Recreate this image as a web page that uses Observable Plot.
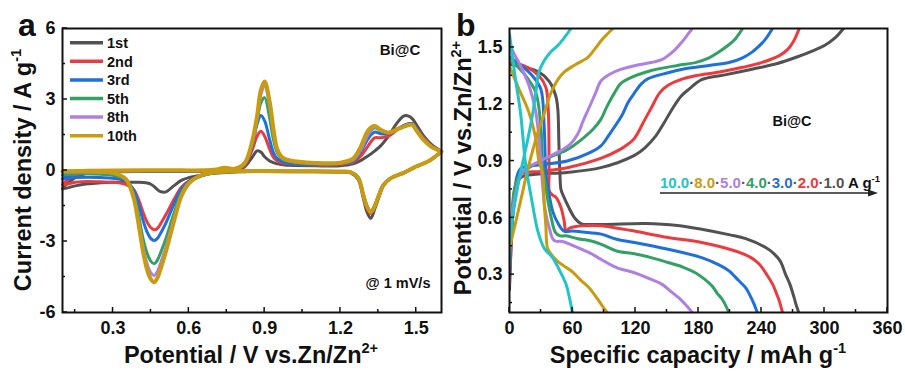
<!DOCTYPE html>
<html><head><meta charset="utf-8">
<script src="https://cdn.jsdelivr.net/npm/d3@7"></script>
<script src="https://cdn.jsdelivr.net/npm/@observablehq/plot@0.6"></script>
<style>
body{margin:0;background:#fff;}
#wrap{position:relative;width:905px;height:371px;overflow:hidden;background:#fff;}
#pa{position:absolute;left:0;top:0;}
#pb{position:absolute;left:450px;top:0;}
</style></head>
<body><div id="wrap"><div id="pa"></div><div id="pb"></div></div>
<script>
// ---------------- Panel a: CV data ----------------
const cycles = ["1st", "2nd", "3rd", "5th", "8th", "10th"];
const cycleColors = ["#525252", "#ec3a3f", "#1f6fdc", "#33a064", "#b07fe4", "#c99b10"];
const cathodicV = [1.6, 1.55, 1.5, 1.45, 1.4, 1.37, 1.35, 1.335, 1.32, 1.305, 1.29, 1.27, 1.24, 1.2, 1.0, 0.8,
  0.7, 0.65, 0.6, 0.57, 0.54, 0.51, 0.49, 0.475, 0.463, 0.45, 0.435, 0.42, 0.4, 0.38, 0.35, 0.3, 0.25, 0.2, 0.15, 0.1];
const anodicV = [0.1, 0.15, 0.2, 0.3, 0.5, 0.7, 0.74, 0.78, 0.82, 0.85, 0.87, 0.885, 0.9, 0.92, 0.935, 0.95, 0.97, 1.0,
  1.1, 1.2, 1.25, 1.28, 1.31, 1.335, 1.36, 1.39, 1.42, 1.45, 1.47, 1.485, 1.5, 1.53, 1.56, 1.6];
const cath1st  = [0.8, 0.4, 0.17, -0.1, -0.32, -0.65, -1.2, -1.65, -2.02, -1.75, -1.15, -0.38, -0.1, -0.06, -0.05, -0.05,
  -0.12, -0.2, -0.3, -0.42, -0.65, -0.9, -0.9, -0.8, -0.68, -0.58, -0.53, -0.51, -0.5, -0.5, -0.5, -0.5, -0.52, -0.56, -0.65, -0.77];
const cath2nd  = [0.8, 0.4, 0.17, -0.1, -0.32, -0.62, -1.12, -1.55, -1.82, -1.58, -1.05, -0.32, -0.08, -0.05, -0.04, -0.04,
  -0.1, -0.22, -0.45, -0.72, -1.25, -1.85, -2.22, -2.45, -2.5, -2.42, -2.18, -1.8, -1.2, -0.78, -0.58, -0.5, -0.48, -0.46, -0.5, -0.6];
const cath3rd  = [0.8, 0.4, 0.17, -0.1, -0.32, -0.6, -1.08, -1.5, -1.75, -1.52, -1.0, -0.3, -0.07, -0.04, -0.03, -0.03,
  -0.1, -0.22, -0.47, -0.8, -1.45, -2.2, -2.62, -2.88, -2.96, -2.88, -2.6, -2.15, -1.4, -0.8, -0.45, -0.33, -0.3, -0.28, -0.3, -0.35];
const cath5th  = [0.8, 0.4, 0.17, -0.1, -0.32, -0.6, -1.08, -1.5, -1.72, -1.5, -1.0, -0.3, -0.07, -0.04, -0.03, -0.03,
  -0.09, -0.2, -0.5, -0.95, -1.85, -2.85, -3.43, -3.8, -3.94, -3.84, -3.5, -2.93, -1.85, -0.95, -0.38, -0.2, -0.16, -0.14, -0.15, -0.18];
const cath8th  = [0.8, 0.4, 0.17, -0.1, -0.32, -0.6, -1.1, -1.5, -1.74, -1.5, -1.0, -0.3, -0.07, -0.04, -0.03, -0.03,
  -0.08, -0.2, -0.53, -1.05, -2.07, -3.2, -3.86, -4.28, -4.44, -4.33, -3.95, -3.3, -2.07, -1.05, -0.35, -0.12, -0.08, -0.06, -0.06, -0.07];
const cath10th = [0.8, 0.4, 0.17, -0.1, -0.32, -0.62, -1.12, -1.52, -1.76, -1.52, -1.0, -0.3, -0.07, -0.04, -0.03, -0.03,
  -0.08, -0.2, -0.55, -1.1, -2.2, -3.4, -4.1, -4.55, -4.72, -4.6, -4.2, -3.5, -2.2, -1.1, -0.35, -0.1, -0.05, -0.03, -0.03, -0.04];
const anod1st  = [-0.77, -0.3, -0.12, -0.05, -0.04, -0.04, -0.03, 0.0, 0.15, 0.55, 0.83, 0.78, 0.58, 0.4, 0.33, 0.28, 0.25, 0.22,
  0.2, 0.2, 0.28, 0.42, 0.62, 0.82, 1.05, 1.45, 1.95, 2.3, 2.3, 2.18, 1.95, 1.45, 1.1, 0.8];
const anod2nd  = [-0.6, -0.2, -0.08, -0.04, -0.03, -0.02, 0.0, 0.03, 0.2, 0.85, 1.45, 1.66, 1.45, 0.9, 0.55, 0.4, 0.32, 0.28,
  0.22, 0.25, 0.35, 0.6, 1.05, 1.38, 1.38, 1.45, 1.68, 1.9, 1.98, 1.98, 1.8, 1.38, 1.05, 0.8];
const anod3rd  = [-0.35, -0.12, -0.06, -0.03, -0.02, -0.01, 0.03, 0.04, 0.25, 1.0, 1.95, 2.32, 2.1, 1.3, 0.75, 0.5, 0.38, 0.3,
  0.25, 0.28, 0.4, 0.78, 1.35, 1.62, 1.55, 1.55, 1.72, 1.9, 1.97, 1.97, 1.78, 1.33, 1.02, 0.8];
const anod5th  = [-0.18, -0.08, -0.04, -0.02, -0.01, 0.0, 0.06, 0.05, 0.28, 1.1, 2.1, 2.85, 3.08, 2.2, 1.3, 0.75, 0.48, 0.38,
  0.28, 0.3, 0.43, 0.85, 1.5, 1.8, 1.68, 1.6, 1.72, 1.86, 1.93, 1.94, 1.74, 1.3, 1.0, 0.8];
const anod8th  = [-0.07, -0.04, -0.02, -0.01, 0.0, 0.02, 0.1, 0.06, 0.3, 1.15, 2.2, 3.2, 3.59, 2.7, 1.6, 0.85, 0.52, 0.4,
  0.3, 0.32, 0.45, 0.88, 1.53, 1.85, 1.7, 1.6, 1.72, 1.85, 1.92, 1.93, 1.72, 1.29, 1.0, 0.8];
const anod10th = [-0.04, -0.02, -0.01, 0.0, 0.01, 0.03, 0.12, 0.07, 0.3, 1.2, 2.3, 3.4, 3.76, 2.9, 1.75, 0.9, 0.55, 0.42,
  0.32, 0.33, 0.5, 1.0, 1.7, 1.88, 1.72, 1.6, 1.72, 1.85, 1.92, 1.93, 1.7, 1.28, 1.0, 0.8];
const cathodic = [cath1st, cath2nd, cath3rd, cath5th, cath8th, cath10th];
const anodic = [anod1st, anod2nd, anod3rd, anod5th, anod8th, anod10th];
const xTicksA = [0.3, 0.6, 0.9, 1.2, 1.5];
const xMinorA = [0.15, 0.45, 0.75, 1.05, 1.35];
const yTicksA = [-6, -3, 0, 3, 6];
const yMinorA = [-4.5, -1.5, 1.5, 4.5];

// ---------------- Panel b: GCD data (capacity mAh/g, potential V) ----------------
const rates = ["1.0", "2.0", "3.0", "4.0", "5.0", "8.0", "10.0"];
const rateColors = ["#525252", "#ec3a3f", "#1f6fdc", "#33a064", "#b07fe4", "#c99b10", "#22c4c8"];
const dis1_0 = [[0,1.41],[15,1.395],[28,1.37],[38,1.32],[44,1.245],[46,1.175],[47,1.0],[48,0.84],[49,0.75],[51,0.72],[56,0.66],[62,0.6],[68,0.57],[87,0.565],[129,0.57],[160,0.56],[183,0.54],[210,0.51],[225,0.49],[244,0.443],[252,0.41],[258,0.37],[263,0.3],[267,0.25],[271,0.18],[273,0.14],[275.5,0.1]];
const chg1_0 = [[0,0.22],[2,0.5],[5,0.72],[10,0.81],[25,0.83],[55,0.84],[87,0.865],[119,0.93],[129,0.97],[139,1.03],[147,1.1],[155,1.175],[163,1.24],[171,1.28],[183,1.33],[205,1.355],[231,1.385],[255,1.415],[273,1.448],[290,1.485],[300,1.51],[310,1.55],[318,1.6]];
const dis2_0 = [[0,1.42],[15,1.4],[28,1.35],[34.6,1.29],[37,1.16],[37.7,0.84],[38,0.74],[41,0.72],[44,0.71],[49,0.655],[52,0.584],[53.8,0.53],[57,0.545],[62,0.553],[70,0.558],[87,0.558],[103,0.545],[119,0.53],[151,0.496],[183,0.47],[215,0.425],[230,0.39],[238,0.355],[245,0.3],[250.5,0.25],[255,0.19],[257,0.16],[260,0.1]];
const chg2_0 = [[0,0.25],[2,0.5],[5,0.72],[10.6,0.83],[30,0.845],[55,0.865],[87.4,0.915],[105,0.96],[113,0.99],[119,1.02],[129,1.12],[135,1.18],[143,1.26],[151,1.3],[163,1.33],[177,1.35],[200,1.37],[222,1.395],[240,1.42],[257,1.457],[265,1.49],[270,1.527],[276,1.6]];
const dis3_0 = [[0,1.45],[10,1.41],[21.8,1.35],[29.8,1.28],[33,1.087],[34.6,0.84],[36,0.78],[37.7,0.725],[41,0.637],[45.8,0.575],[52,0.53],[60,0.53],[70,0.525],[87.4,0.514],[102,0.487],[119,0.47],[151,0.434],[183,0.39],[200,0.35],[209,0.32],[218,0.27],[225,0.23],[230,0.18],[233,0.143],[236,0.1]];
const chg3_0 = [[0,0.29],[2,0.55],[5,0.75],[10.6,0.86],[30,0.88],[55,0.9],[75,0.94],[87,0.98],[95,1.04],[107,1.14],[113,1.21],[119,1.26],[126,1.31],[132,1.335],[150,1.365],[167,1.387],[190,1.405],[209,1.42],[222,1.445],[231,1.475],[240,1.52],[244,1.545],[250.5,1.6]];
const dis4_0 = [[0,1.45],[6,1.41],[15.4,1.35],[25,1.263],[29.8,1.087],[32,0.84],[33.5,0.8],[34.6,0.76],[39,0.62],[44,0.52],[48,0.505],[53.8,0.505],[65,0.49],[76,0.48],[87.4,0.46],[102,0.425],[119,0.41],[135,0.39],[151,0.364],[165,0.34],[177,0.31],[186,0.275],[193,0.24],[198,0.2],[202.6,0.17],[209,0.1]];
const chg4_0 = [[0,0.35],[2,0.58],[5,0.76],[10.6,0.83],[30,0.9],[55,0.96],[70,1.02],[80,1.07],[87,1.12],[93,1.19],[100,1.26],[106,1.31],[113,1.334],[135,1.378],[160,1.405],[177,1.42],[190,1.445],[199,1.475],[208,1.51],[215,1.545],[222,1.6]];
const dis5_0 = [[0,1.53],[4,1.47],[9,1.42],[18.5,1.3],[25,1.16],[29.8,0.91],[31.4,0.78],[34,0.64],[37.7,0.55],[42.5,0.48],[50.6,0.475],[60,0.455],[76,0.416],[87.4,0.38],[102,0.337],[119,0.31],[135,0.275],[145,0.25],[154,0.21],[161,0.178],[168,0.14],[174,0.1]];
const chg5_0 = [[0,0.42],[2,0.6],[5.8,0.725],[9,0.8],[15,0.86],[23.3,0.884],[36,0.92],[49,0.955],[58,0.99],[65,1.043],[70,1.11],[76,1.184],[82,1.26],[87.4,1.325],[96,1.36],[106.5,1.385],[120,1.405],[135,1.42],[145,1.435],[151,1.457],[158,1.49],[164,1.527],[170,1.57],[174,1.6]];
const dis8_0 = [[0,1.4],[9,1.28],[18.5,1.157],[25,1.02],[28,0.9],[31.4,0.84],[33,0.68],[34.6,0.56],[36.2,0.44],[40,0.405],[45.8,0.37],[52,0.345],[60,0.315],[68,0.27],[76,0.23],[84,0.17],[89,0.13],[93,0.1]];
const chg8_0 = [[0,0.44],[2.6,0.5],[10.6,0.69],[18,0.87],[26.6,1.043],[33,1.15],[39,1.254],[46,1.33],[52,1.37],[63,1.41],[74.6,1.448],[81,1.49],[87.4,1.537],[93,1.57],[98.6,1.6]];
const dis10_0 = [[0,1.57],[5,1.36],[10.6,1.15],[15.4,0.88],[21,0.7],[27,0.53],[33,0.44],[41,0.39],[47,0.33],[53.8,0.25],[57,0.18],[60,0.1]];
const chg10_0 = [[0,0.47],[4,0.64],[9,0.8],[13.7,0.92],[18,1.03],[21.8,1.14],[25,1.26],[28,1.37],[33,1.43],[39,1.475],[46,1.51],[52,1.55],[58.6,1.6]];
const discharge = [dis1_0, dis2_0, dis3_0, dis4_0, dis5_0, dis8_0, dis10_0];
const charge = [chg1_0, chg2_0, chg3_0, chg4_0, chg5_0, chg8_0, chg10_0];
const xTicksB = [0, 60, 120, 180, 240, 300, 360];
const xMinorB = [30, 90, 150, 210, 270, 330];
const yTicksB = [0.3, 0.6, 0.9, 1.2, 1.5];
const yMinorB = [0.15, 0.45, 0.75, 1.05, 1.35];

// ---------------- helpers ----------------
const FONT = '"Liberation Sans", Arial, Helvetica, sans-serif';
const INK = "#111";
function addText(svg, o) {
  const t = d3.select(svg).append("text")
    .attr("font-family", FONT).attr("font-size", o.size).attr("font-weight", o.weight || "bold")
    .attr("fill", o.fill || INK).attr("text-anchor", o.anchor || "start")
    .attr("transform", `translate(${o.x},${o.y})` + (o.rotate ? ` rotate(${o.rotate})` : ""));
  t.append("tspan").text(o.text);
  if (o.sup) t.append("tspan").attr("font-size", o.size * 0.62).attr("dy", -o.size * 0.42).text(o.sup);
  return t;
}
function labelAxes(xT, yT, fmtX, fmtY) {
  return [
    Plot.axisX({ticks: xT, tickSize: 0, tickPadding: 9, tickFormat: fmtX, label: null}),
    Plot.axisY({ticks: yT, tickSize: 0, tickPadding: 7, tickFormat: fmtY, label: null})
  ];
}
// inward ticks drawn through the plot's own scales
function inwardTicks(svg, xT, xM, yT, yM, m) {
  const sx = svg.scale("x"), sy = svg.scale("y");
  const g = d3.select(svg).append("g").attr("stroke", INK).attr("stroke-width", 1.5);
  const yb = m.height - m.bottom, xl = m.left;
  [[xT, 5], [xM, 3]].forEach(([arr, len]) => arr.forEach(v => {
    const x = sx.apply(v);
    g.append("line").attr("x1", x).attr("x2", x).attr("y1", yb).attr("y2", yb - len);
  }));
  [[yT, 5], [yM, 3]].forEach(([arr, len]) => arr.forEach(v => {
    const y = sy.apply(v);
    g.append("line").attr("x1", xl).attr("x2", xl + len).attr("y1", y).attr("y2", y);
  }));
}
const plotStyle = {fontFamily: FONT, fontSize: "18px", fontWeight: "bold", color: INK, background: "transparent", overflow: "visible"};

// ---------------- Panel a ----------------
const cvMarks = cycles.map((c, k) => {
  const pts = cathodicV.map((v, j) => ({v, i: cathodic[k][j]}))
    .concat(anodicV.slice(1).map((v, j) => ({v, i: anodic[k][j + 1]})));
  return Plot.line(pts, {x: "v", y: "i", stroke: cycleColors[k], strokeWidth: k === 5 ? 4 : 3, curve: "catmull-rom"});
});
const mA = {width: 450, height: 371, left: 62, right: 9, top: 28, bottom: 59};
const svgA = Plot.plot({
  width: mA.width, height: mA.height, marginLeft: mA.left, marginRight: mA.right, marginTop: mA.top, marginBottom: mA.bottom,
  style: plotStyle,
  x: {domain: [0.1, 1.6]},
  y: {domain: [-6, 6]},
  marks: [
    ...cvMarks,
    ...labelAxes(xTicksA, yTicksA, d3.format(".1f"), d => String(d)),
    Plot.frame({stroke: INK, strokeWidth: 2})
  ]
});
document.getElementById("pa").appendChild(svgA);
inwardTicks(svgA, xTicksA, xMinorA, yTicksA, yMinorA, mA);
addText(svgA, {x: 18, y: 36, text: "a", size: 32});
addText(svgA, {x: 251, y: 363, text: "Potential / V vs.Zn/Zn", sup: "2+", size: 23.5, anchor: "middle"});
addText(svgA, {x: 31, y: 170, text: "Current density / A g", sup: "-1", size: 23.5, anchor: "middle", rotate: -90});
addText(svgA, {x: 400, y: 55, text: "Bi@C", size: 15, anchor: "middle"});
addText(svgA, {x: 398, y: 288, text: "@ 1 mV/s", size: 14.5, anchor: "middle"});
cycles.forEach((c, k) => {
  const y = 42.7 + 18.6 * k;
  d3.select(svgA).append("line").attr("x1", 70).attr("x2", 103).attr("y1", y).attr("y2", y)
    .attr("stroke", cycleColors[k]).attr("stroke-width", 3.5);
  addText(svgA, {x: 107, y: y + 5.2, text: c, size: 14.5});
});

// ---------------- Panel b ----------------
const gcdMarks = [];
rates.forEach((r, k) => {
  [discharge[k], charge[k]].forEach(arr => {
    gcdMarks.push(Plot.line(arr, {x: d => d[0], y: d => d[1], stroke: rateColors[k], strokeWidth: 3, curve: "catmull-rom"}));
  });
});
const mB = {width: 455, height: 371, left: 59, right: 18, top: 28, bottom: 59};
const svgB = Plot.plot({
  width: mB.width, height: mB.height, marginLeft: mB.left, marginRight: mB.right, marginTop: mB.top, marginBottom: mB.bottom,
  style: plotStyle,
  x: {domain: [0, 360]},
  y: {domain: [0.1, 1.6]},
  clip: true,
  marks: [
    ...gcdMarks,
    ...labelAxes(xTicksB, yTicksB, d => String(d), d3.format(".1f")),
    Plot.frame({stroke: INK, strokeWidth: 2})
  ]
});
document.getElementById("pb").appendChild(svgB);
inwardTicks(svgB, xTicksB, xMinorB, yTicksB, yMinorB, mB);
addText(svgB, {x: 6, y: 36, text: "b", size: 32});
addText(svgB, {x: 248, y: 363, text: "Specific capacity / mAh g", sup: "-1", size: 23.5, anchor: "middle"});
addText(svgB, {x: 21, y: 168, text: "Potential / V vs.Zn/Zn", sup: "2+", size: 23.5, anchor: "middle", rotate: -90});
addText(svgB, {x: 342, y: 126, text: "Bi@C", size: 14.5, anchor: "middle"});
// rate annotation
const ann = d3.select(svgB).append("text").attr("font-family", FONT).attr("font-size", 15).attr("font-weight", "bold")
  .attr("text-anchor", "start").attr("x", 210).attr("y", 188);
rates.slice().reverse().forEach((r, j) => {
  const k = rates.length - 1 - j;
  if (j > 0) ann.append("tspan").attr("fill", "#555").text("·");
  ann.append("tspan").attr("fill", rateColors[k]).text(r);
});
ann.append("tspan").attr("fill", INK).text(" A g");
ann.append("tspan").attr("fill", INK).attr("font-size", 9.5).attr("dy", -6).text("-1");
d3.select(svgB).append("line").attr("x1", 210).attr("x2", 422).attr("y1", 193).attr("y2", 193)
  .attr("stroke", "#222").attr("stroke-width", 1.5);
d3.select(svgB).append("path").attr("d", "M428,193 L418,189.5 L418,196.5 Z").attr("fill", "#222");
</script>
</body></html>
